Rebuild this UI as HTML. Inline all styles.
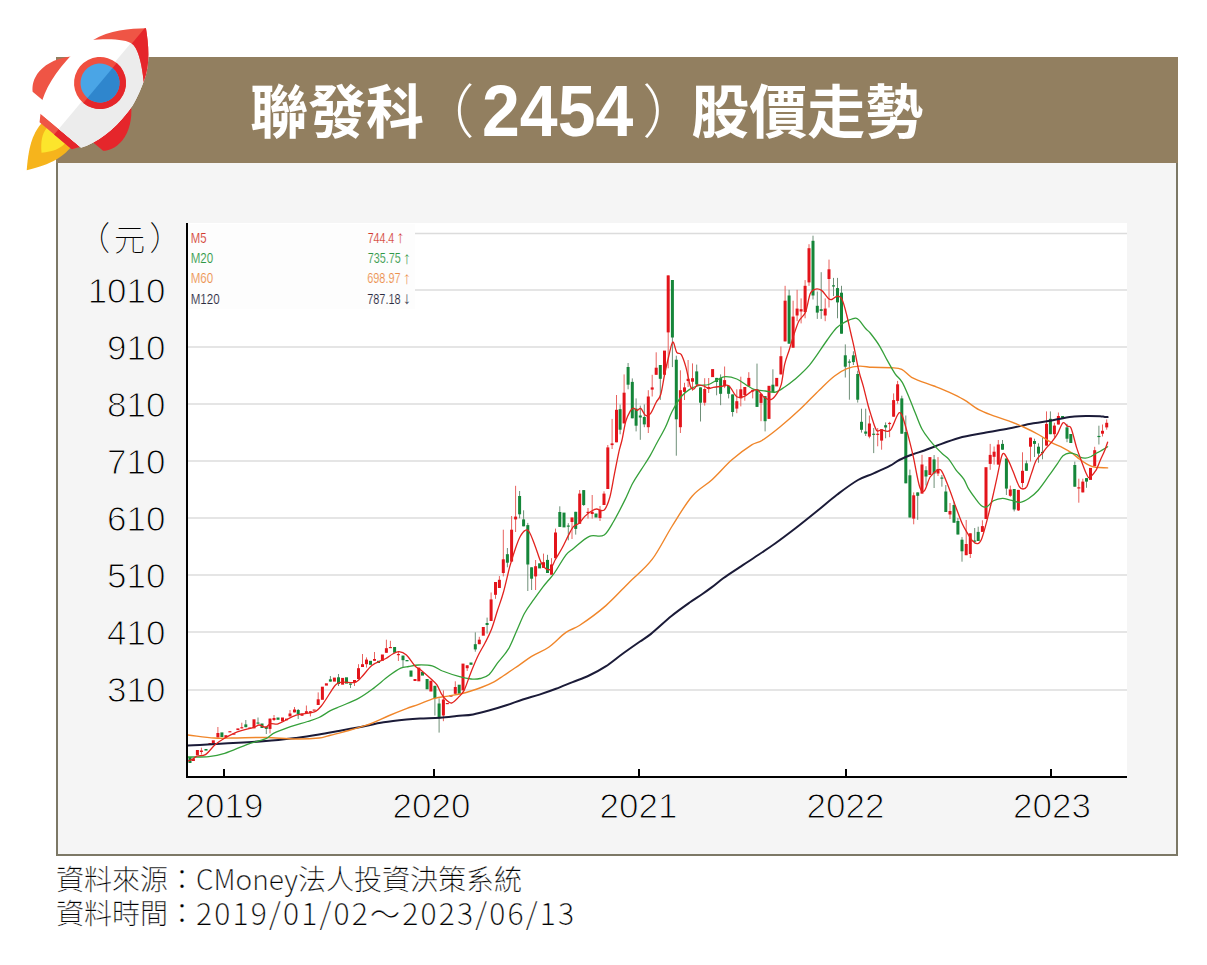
<!DOCTYPE html>
<html lang="zh-Hant">
<head>
<meta charset="utf-8">
<title>聯發科（2454）股價走勢</title>
<style>
html,body{margin:0;padding:0;background:#fff;}
body{width:1207px;height:965px;position:relative;overflow:hidden;}
#banner{position:absolute;left:56px;top:57px;width:1122px;height:106px;background:#927f60;}
#title{position:absolute;left:250px;top:67.5px;height:80px;line-height:80px;color:#fff;font-family:"Noto Sans CJK TC",sans-serif;font-weight:700;font-size:58px;white-space:nowrap;}
#title .num{font-family:"Liberation Sans",sans-serif;font-weight:700;font-size:68px;display:inline-block;transform:scaleY(1.07);transform-origin:50% 75%;position:relative;top:3.5px;}
#title .p1,#title .p2{font-weight:300;position:relative;}
#title .p1{left:-7.5px;}
#title .p2{left:9px;}
#panel{position:absolute;left:56px;top:163px;width:1118px;height:691px;background:#f5f5f5;border:2px solid #7c7866;border-top:none;}
#chart{position:absolute;left:0;top:0;}
#rocket{position:absolute;left:0;top:0;}
.foot{position:absolute;left:56px;font-family:"Noto Sans CJK TC",sans-serif;font-weight:300;-webkit-text-stroke:0.25px #fff;font-size:28px;color:#000;white-space:nowrap;}
</style>
</head>
<body>
<div id="banner"></div>
<div id="panel"></div>
<div id="title">聯發科<span class="p1">（</span><span class="num">2454</span><span class="p2">）</span>股價走勢</div>
<svg id="chart" width="1207" height="965" viewBox="0 0 1207 965">
  <rect x="187" y="223" width="940" height="553" fill="#fff"/>
  <g stroke="#dcdcdc" stroke-width="1.5">
    <line x1="188" y1="233.5" x2="1127" y2="233.5"/>
    <line x1="188" y1="290" x2="1127" y2="290"/>
    <line x1="188" y1="347" x2="1127" y2="347"/>
    <line x1="188" y1="404" x2="1127" y2="404"/>
    <line x1="188" y1="461" x2="1127" y2="461"/>
    <line x1="188" y1="518" x2="1127" y2="518"/>
    <line x1="188" y1="575" x2="1127" y2="575"/>
    <line x1="188" y1="632" x2="1127" y2="632"/>
    <line x1="188" y1="690" x2="1127" y2="690"/>
  </g>
  <rect x="188" y="224" width="227" height="85" fill="#fdfdfd"/>
  <g id="data">
<g stroke-width="1"><line x1="201.4" y1="747.7" x2="201.4" y2="754.6" stroke="#e8635f"/><line x1="217.9" y1="727.0" x2="217.9" y2="737.5" stroke="#e8635f"/><line x1="241.8" y1="722.7" x2="241.8" y2="728.4" stroke="#e8635f"/><line x1="245.8" y1="720.0" x2="245.8" y2="727.2" stroke="#6f8f78"/><line x1="258.0" y1="717.5" x2="258.0" y2="723.5" stroke="#6f8f78"/><line x1="266.3" y1="726.6" x2="266.3" y2="734.0" stroke="#6f8f78"/><line x1="270.0" y1="718.6" x2="270.0" y2="733.4" stroke="#e8635f"/><line x1="274.0" y1="715.0" x2="274.0" y2="721.0" stroke="#e8635f"/><line x1="290.0" y1="710.0" x2="290.0" y2="716.4" stroke="#e8635f"/><line x1="294.5" y1="707.0" x2="294.5" y2="712.4" stroke="#e8635f"/><line x1="298.2" y1="709.0" x2="298.2" y2="719.0" stroke="#6f8f78"/><line x1="306.4" y1="705.5" x2="306.4" y2="713.0" stroke="#e8635f"/><line x1="310.4" y1="711.2" x2="310.4" y2="716.4" stroke="#e8635f"/><line x1="318.2" y1="692.4" x2="318.2" y2="705.0" stroke="#e8635f"/><line x1="330.4" y1="676.0" x2="330.4" y2="681.6" stroke="#6f8f78"/><line x1="338.5" y1="674.0" x2="338.5" y2="686.0" stroke="#6f8f78"/><line x1="350.5" y1="683.5" x2="350.5" y2="688.0" stroke="#6f8f78"/><line x1="354.5" y1="680.0" x2="354.5" y2="686.0" stroke="#e8635f"/><line x1="358.5" y1="664.2" x2="358.5" y2="679.0" stroke="#e8635f"/><line x1="362.5" y1="654.0" x2="362.5" y2="667.0" stroke="#e8635f"/><line x1="366.5" y1="657.4" x2="366.5" y2="667.6" stroke="#e8635f"/><line x1="374.5" y1="652.0" x2="374.5" y2="660.8" stroke="#e8635f"/><line x1="386.4" y1="639.7" x2="386.4" y2="652.8" stroke="#e8635f"/><line x1="390.4" y1="640.8" x2="390.4" y2="648.0" stroke="#e8635f"/><line x1="398.4" y1="651.0" x2="398.4" y2="661.0" stroke="#e8635f"/><line x1="403.0" y1="655.6" x2="403.0" y2="667.0" stroke="#6f8f78"/><line x1="434.9" y1="685.8" x2="434.9" y2="715.5" stroke="#6f8f78"/><line x1="439.1" y1="698.4" x2="439.1" y2="732.6" stroke="#6f8f78"/><line x1="443.4" y1="690.4" x2="443.4" y2="721.2" stroke="#e8635f"/><line x1="455.3" y1="681.3" x2="455.3" y2="693.8" stroke="#e8635f"/><line x1="467.2" y1="665.3" x2="467.2" y2="671.0" stroke="#e8635f"/><line x1="475.3" y1="632.3" x2="475.3" y2="651.7" stroke="#6f8f78"/><line x1="479.3" y1="636.8" x2="479.3" y2="644.2" stroke="#e8635f"/><line x1="487.1" y1="617.6" x2="487.1" y2="633.6" stroke="#6f8f78"/><line x1="491.1" y1="592.5" x2="491.1" y2="621.0" stroke="#e8635f"/><line x1="495.5" y1="582.0" x2="495.5" y2="598.8" stroke="#e8635f"/><line x1="499.4" y1="576.0" x2="499.4" y2="588.0" stroke="#e8635f"/><line x1="503.3" y1="529.7" x2="503.3" y2="576.4" stroke="#e8635f"/><line x1="507.4" y1="548.0" x2="507.4" y2="567.3" stroke="#6f8f78"/><line x1="511.6" y1="516.0" x2="511.6" y2="561.6" stroke="#e8635f"/><line x1="515.6" y1="485.8" x2="515.6" y2="532.0" stroke="#e8635f"/><line x1="519.6" y1="491.0" x2="519.6" y2="518.3" stroke="#6f8f78"/><line x1="523.6" y1="510.3" x2="523.6" y2="526.3" stroke="#6f8f78"/><line x1="527.8" y1="522.9" x2="527.8" y2="591.0" stroke="#6f8f78"/><line x1="531.6" y1="567.3" x2="531.6" y2="590.0" stroke="#6f8f78"/><line x1="535.6" y1="560.0" x2="535.6" y2="590.0" stroke="#e8635f"/><line x1="543.5" y1="553.6" x2="543.5" y2="567.9" stroke="#e8635f"/><line x1="547.5" y1="554.8" x2="547.5" y2="573.0" stroke="#6f8f78"/><line x1="551.5" y1="558.2" x2="551.5" y2="574.7" stroke="#e8635f"/><line x1="555.5" y1="528.6" x2="555.5" y2="558.2" stroke="#e8635f"/><line x1="559.8" y1="506.3" x2="559.8" y2="526.9" stroke="#6f8f78"/><line x1="568.3" y1="523.2" x2="568.3" y2="540.3" stroke="#6f8f78"/><line x1="572.0" y1="517.5" x2="572.0" y2="539.0" stroke="#e8635f"/><line x1="575.7" y1="511.8" x2="575.7" y2="534.6" stroke="#6f8f78"/><line x1="579.7" y1="490.0" x2="579.7" y2="523.8" stroke="#e8635f"/><line x1="583.7" y1="490.1" x2="583.7" y2="506.0" stroke="#6f8f78"/><line x1="588.0" y1="508.0" x2="588.0" y2="518.6" stroke="#e8635f"/><line x1="592.2" y1="495.0" x2="592.2" y2="518.6" stroke="#e8635f"/><line x1="600.0" y1="506.0" x2="600.0" y2="521.0" stroke="#e8635f"/><line x1="604.0" y1="491.3" x2="604.0" y2="505.0" stroke="#e8635f"/><line x1="607.8" y1="445.0" x2="607.8" y2="489.0" stroke="#e8635f"/><line x1="612.1" y1="418.9" x2="612.1" y2="449.0" stroke="#e8635f"/><line x1="616.5" y1="395.0" x2="616.5" y2="442.3" stroke="#e8635f"/><line x1="620.1" y1="404.6" x2="620.1" y2="434.3" stroke="#6f8f78"/><line x1="624.1" y1="374.4" x2="624.1" y2="423.4" stroke="#e8635f"/><line x1="628.1" y1="363.0" x2="628.1" y2="389.3" stroke="#6f8f78"/><line x1="632.3" y1="378.4" x2="632.3" y2="418.3" stroke="#6f8f78"/><line x1="636.1" y1="398.4" x2="636.1" y2="431.4" stroke="#6f8f78"/><line x1="640.3" y1="405.6" x2="640.3" y2="439.8" stroke="#6f8f78"/><line x1="644.3" y1="404.4" x2="644.3" y2="427.2" stroke="#6f8f78"/><line x1="648.3" y1="390.2" x2="648.3" y2="433.0" stroke="#e8635f"/><line x1="652.2" y1="374.8" x2="652.2" y2="396.5" stroke="#e8635f"/><line x1="656.2" y1="352.3" x2="656.2" y2="374.8" stroke="#e8635f"/><line x1="660.3" y1="365.0" x2="660.3" y2="399.9" stroke="#6f8f78"/><line x1="668.2" y1="275.4" x2="668.2" y2="368.3" stroke="#e8635f"/><line x1="672.4" y1="280.0" x2="672.4" y2="367.1" stroke="#6f8f78"/><line x1="676.3" y1="355.7" x2="676.3" y2="455.7" stroke="#6f8f78"/><line x1="680.4" y1="370.3" x2="680.4" y2="433.0" stroke="#e8635f"/><line x1="684.5" y1="382.8" x2="684.5" y2="400.0" stroke="#e8635f"/><line x1="688.1" y1="360.0" x2="688.1" y2="387.0" stroke="#e8635f"/><line x1="692.5" y1="363.4" x2="692.5" y2="390.8" stroke="#e8635f"/><line x1="696.7" y1="364.6" x2="696.7" y2="385.0" stroke="#6f8f78"/><line x1="700.5" y1="387.4" x2="700.5" y2="421.5" stroke="#6f8f78"/><line x1="704.7" y1="378.2" x2="704.7" y2="405.6" stroke="#e8635f"/><line x1="708.7" y1="378.0" x2="708.7" y2="393.0" stroke="#e8635f"/><line x1="716.6" y1="377.9" x2="716.6" y2="395.3" stroke="#6f8f78"/><line x1="720.6" y1="374.4" x2="720.6" y2="405.2" stroke="#6f8f78"/><line x1="724.6" y1="366.5" x2="724.6" y2="388.1" stroke="#e8635f"/><line x1="728.6" y1="385.8" x2="728.6" y2="398.4" stroke="#6f8f78"/><line x1="732.6" y1="394.4" x2="732.6" y2="416.6" stroke="#6f8f78"/><line x1="736.8" y1="389.3" x2="736.8" y2="413.2" stroke="#e8635f"/><line x1="740.8" y1="376.7" x2="740.8" y2="406.4" stroke="#e8635f"/><line x1="744.8" y1="387.0" x2="744.8" y2="400.7" stroke="#e8635f"/><line x1="748.8" y1="372.2" x2="748.8" y2="386.4" stroke="#e8635f"/><line x1="752.7" y1="389.8" x2="752.7" y2="398.4" stroke="#e8635f"/><line x1="757.0" y1="363.6" x2="757.0" y2="406.9" stroke="#6f8f78"/><line x1="761.0" y1="393.8" x2="761.0" y2="421.2" stroke="#e8635f"/><line x1="765.1" y1="396.1" x2="765.1" y2="431.4" stroke="#6f8f78"/><line x1="772.9" y1="369.3" x2="772.9" y2="392.1" stroke="#6f8f78"/><line x1="780.9" y1="346.5" x2="780.9" y2="374.4" stroke="#e8635f"/><line x1="785.1" y1="285.8" x2="785.1" y2="341.4" stroke="#e8635f"/><line x1="789.1" y1="289.8" x2="789.1" y2="343.7" stroke="#6f8f78"/><line x1="793.1" y1="300.7" x2="793.1" y2="347.7" stroke="#e8635f"/><line x1="797.1" y1="289.8" x2="797.1" y2="321.2" stroke="#e8635f"/><line x1="801.1" y1="298.4" x2="801.1" y2="323.4" stroke="#e8635f"/><line x1="805.1" y1="280.1" x2="805.1" y2="318.3" stroke="#e8635f"/><line x1="809.0" y1="244.2" x2="809.0" y2="285.8" stroke="#e8635f"/><line x1="813.0" y1="235.7" x2="813.0" y2="299.5" stroke="#6f8f78"/><line x1="817.3" y1="291.5" x2="817.3" y2="318.9" stroke="#6f8f78"/><line x1="821.2" y1="272.2" x2="821.2" y2="318.9" stroke="#6f8f78"/><line x1="825.2" y1="298.4" x2="825.2" y2="321.2" stroke="#e8635f"/><line x1="829.0" y1="259.6" x2="829.0" y2="307.5" stroke="#e8635f"/><line x1="833.5" y1="277.9" x2="833.5" y2="296.1" stroke="#6f8f78"/><line x1="837.5" y1="277.9" x2="837.5" y2="318.3" stroke="#6f8f78"/><line x1="841.5" y1="285.8" x2="841.5" y2="333.7" stroke="#6f8f78"/><line x1="845.3" y1="344.4" x2="845.3" y2="377.5" stroke="#6f8f78"/><line x1="849.4" y1="359.3" x2="849.4" y2="399.7" stroke="#6f8f78"/><line x1="853.4" y1="351.3" x2="853.4" y2="365.0" stroke="#6f8f78"/><line x1="857.7" y1="370.7" x2="857.7" y2="402.6" stroke="#6f8f78"/><line x1="861.5" y1="408.7" x2="861.5" y2="432.6" stroke="#6f8f78"/><line x1="865.7" y1="408.7" x2="865.7" y2="436.0" stroke="#6f8f78"/><line x1="869.4" y1="415.5" x2="869.4" y2="438.3" stroke="#e8635f"/><line x1="873.7" y1="428.0" x2="873.7" y2="453.1" stroke="#6f8f78"/><line x1="877.7" y1="428.0" x2="877.7" y2="446.3" stroke="#e8635f"/><line x1="881.6" y1="429.2" x2="881.6" y2="449.7" stroke="#e8635f"/><line x1="885.6" y1="422.4" x2="885.6" y2="438.3" stroke="#6f8f78"/><line x1="889.6" y1="421.8" x2="889.6" y2="437.2" stroke="#e8635f"/><line x1="893.6" y1="393.4" x2="893.6" y2="416.7" stroke="#e8635f"/><line x1="897.6" y1="380.9" x2="897.6" y2="403.7" stroke="#e8635f"/><line x1="901.8" y1="395.7" x2="901.8" y2="433.7" stroke="#6f8f78"/><line x1="905.8" y1="415.5" x2="905.8" y2="483.3" stroke="#6f8f78"/><line x1="909.9" y1="469.6" x2="909.9" y2="517.5" stroke="#6f8f78"/><line x1="913.7" y1="492.4" x2="913.7" y2="524.3" stroke="#e8635f"/><line x1="917.7" y1="492.4" x2="917.7" y2="519.8" stroke="#6f8f78"/><line x1="922.0" y1="454.8" x2="922.0" y2="493.6" stroke="#e8635f"/><line x1="926.0" y1="466.2" x2="926.0" y2="485.6" stroke="#6f8f78"/><line x1="934.1" y1="455.0" x2="934.1" y2="488.0" stroke="#6f8f78"/><line x1="938.0" y1="457.1" x2="938.0" y2="476.0" stroke="#e8635f"/><line x1="941.9" y1="475.0" x2="941.9" y2="486.7" stroke="#6f8f78"/><line x1="945.8" y1="485.0" x2="945.8" y2="512.0" stroke="#6f8f78"/><line x1="950.0" y1="503.0" x2="950.0" y2="519.0" stroke="#e8635f"/><line x1="954.0" y1="501.5" x2="954.0" y2="522.7" stroke="#6f8f78"/><line x1="957.9" y1="518.0" x2="957.9" y2="534.5" stroke="#6f8f78"/><line x1="962.0" y1="537.1" x2="962.0" y2="561.7" stroke="#6f8f78"/><line x1="966.2" y1="520.0" x2="966.2" y2="555.2" stroke="#e8635f"/><line x1="970.3" y1="533.3" x2="970.3" y2="558.0" stroke="#e8635f"/><line x1="974.7" y1="528.0" x2="974.7" y2="543.5" stroke="#6f8f78"/><line x1="978.2" y1="526.7" x2="978.2" y2="541.0" stroke="#6f8f78"/><line x1="982.4" y1="520.3" x2="982.4" y2="531.9" stroke="#e8635f"/><line x1="990.2" y1="443.9" x2="990.2" y2="469.8" stroke="#e8635f"/><line x1="994.1" y1="446.5" x2="994.1" y2="464.6" stroke="#e8635f"/><line x1="998.3" y1="440.0" x2="998.3" y2="464.6" stroke="#e8635f"/><line x1="1002.5" y1="440.0" x2="1002.5" y2="449.7" stroke="#6f8f78"/><line x1="1006.4" y1="458.5" x2="1006.4" y2="495.0" stroke="#6f8f78"/><line x1="1010.3" y1="485.6" x2="1010.3" y2="496.9" stroke="#e8635f"/><line x1="1014.2" y1="489.0" x2="1014.2" y2="511.4" stroke="#6f8f78"/><line x1="1018.4" y1="489.9" x2="1018.4" y2="511.0" stroke="#e8635f"/><line x1="1022.5" y1="452.3" x2="1022.5" y2="487.5" stroke="#e8635f"/><line x1="1026.4" y1="460.5" x2="1026.4" y2="470.8" stroke="#6f8f78"/><line x1="1030.5" y1="437.6" x2="1030.5" y2="461.5" stroke="#e8635f"/><line x1="1034.5" y1="438.7" x2="1034.5" y2="457.0" stroke="#6f8f78"/><line x1="1038.5" y1="443.3" x2="1038.5" y2="462.7" stroke="#6f8f78"/><line x1="1042.5" y1="437.6" x2="1042.5" y2="459.3" stroke="#6f8f78"/><line x1="1046.5" y1="411.4" x2="1046.5" y2="445.6" stroke="#e8635f"/><line x1="1050.4" y1="411.4" x2="1050.4" y2="434.2" stroke="#6f8f78"/><line x1="1054.4" y1="422.8" x2="1054.4" y2="437.6" stroke="#e8635f"/><line x1="1058.4" y1="412.5" x2="1058.4" y2="424.5" stroke="#e8635f"/><line x1="1067.0" y1="423.9" x2="1067.0" y2="442.2" stroke="#6f8f78"/><line x1="1074.8" y1="461.6" x2="1074.8" y2="486.7" stroke="#6f8f78"/><line x1="1078.8" y1="478.7" x2="1078.8" y2="502.7" stroke="#e8635f"/><line x1="1082.8" y1="478.7" x2="1082.8" y2="492.4" stroke="#e8635f"/><line x1="1086.5" y1="478.1" x2="1086.5" y2="487.8" stroke="#6f8f78"/><line x1="1094.7" y1="446.8" x2="1094.7" y2="466.2" stroke="#e8635f"/><line x1="1098.9" y1="425.7" x2="1098.9" y2="444.5" stroke="#6f8f78"/><line x1="1102.5" y1="424.5" x2="1102.5" y2="436.5" stroke="#e8635f"/><line x1="1106.7" y1="419.4" x2="1106.7" y2="429.7" stroke="#e8635f"/></g>
<g><rect x="188.5" y="757.0" width="3" height="6.0" fill="#158639"/><rect x="191.9" y="758.6" width="3" height="2.4" fill="#e3141b"/><rect x="195.9" y="750.0" width="3" height="5.2" fill="#e3141b"/><rect x="199.9" y="750.5" width="3" height="1.5" fill="#e3141b"/><rect x="204.5" y="749.0" width="3" height="1.6" fill="#158639"/><rect x="208.5" y="743.0" width="3" height="2.0" fill="#e3141b"/><rect x="211.8" y="740.3" width="3" height="3.5" fill="#e3141b"/><rect x="216.4" y="733.0" width="3" height="4.5" fill="#e3141b"/><rect x="220.4" y="732.4" width="3" height="4.6" fill="#158639"/><rect x="224.4" y="735.2" width="3" height="2.3" fill="#e3141b"/><rect x="228.4" y="731.2" width="3" height="1.2" fill="#e3141b"/><rect x="232.4" y="733.5" width="3" height="1.2" fill="#e3141b"/><rect x="236.4" y="728.4" width="3" height="1.7" fill="#e3141b"/><rect x="240.3" y="727.2" width="3" height="1.2" fill="#e3141b"/><rect x="244.3" y="724.4" width="3" height="2.8" fill="#158639"/><rect x="248.3" y="727.5" width="3" height="1.2" fill="#e3141b"/><rect x="252.5" y="719.3" width="3" height="9.1" fill="#e3141b"/><rect x="256.5" y="722.5" width="3" height="1.2" fill="#158639"/><rect x="260.5" y="723.5" width="3" height="4.5" fill="#158639"/><rect x="264.8" y="726.6" width="3" height="2.3" fill="#158639"/><rect x="268.5" y="718.6" width="3" height="10.3" fill="#e3141b"/><rect x="272.5" y="718.0" width="3" height="2.0" fill="#e3141b"/><rect x="276.5" y="717.5" width="3" height="2.3" fill="#158639"/><rect x="281.0" y="717.5" width="3" height="4.0" fill="#e3141b"/><rect x="285.0" y="718.6" width="3" height="1.7" fill="#e3141b"/><rect x="288.5" y="713.5" width="3" height="2.9" fill="#e3141b"/><rect x="293.0" y="709.5" width="3" height="2.9" fill="#e3141b"/><rect x="296.7" y="710.0" width="3" height="4.0" fill="#158639"/><rect x="300.5" y="713.5" width="3" height="2.3" fill="#e3141b"/><rect x="304.9" y="711.2" width="3" height="1.8" fill="#e3141b"/><rect x="308.9" y="711.2" width="3" height="1.8" fill="#e3141b"/><rect x="312.7" y="709.5" width="3" height="1.2" fill="#e3141b"/><rect x="316.7" y="699.3" width="3" height="5.7" fill="#e3141b"/><rect x="320.9" y="686.7" width="3" height="13.1" fill="#e3141b"/><rect x="324.9" y="683.3" width="3" height="2.3" fill="#e3141b"/><rect x="328.9" y="679.3" width="3" height="2.3" fill="#158639"/><rect x="332.9" y="677.6" width="3" height="4.0" fill="#e3141b"/><rect x="337.0" y="677.3" width="3" height="6.7" fill="#158639"/><rect x="341.1" y="677.9" width="3" height="6.8" fill="#e3141b"/><rect x="345.0" y="677.3" width="3" height="6.3" fill="#158639"/><rect x="349.0" y="683.5" width="3" height="1.2" fill="#158639"/><rect x="353.0" y="680.0" width="3" height="2.0" fill="#e3141b"/><rect x="357.0" y="668.2" width="3" height="10.8" fill="#e3141b"/><rect x="361.0" y="664.2" width="3" height="2.8" fill="#e3141b"/><rect x="365.0" y="659.6" width="3" height="4.6" fill="#e3141b"/><rect x="369.0" y="660.8" width="3" height="4.0" fill="#158639"/><rect x="373.0" y="659.0" width="3" height="1.8" fill="#e3141b"/><rect x="377.0" y="660.8" width="3" height="2.2" fill="#158639"/><rect x="380.9" y="654.5" width="3" height="6.3" fill="#e3141b"/><rect x="384.9" y="648.2" width="3" height="4.6" fill="#e3141b"/><rect x="388.9" y="647.0" width="3" height="1.2" fill="#e3141b"/><rect x="393.1" y="647.0" width="3" height="5.8" fill="#158639"/><rect x="396.9" y="654.0" width="3" height="1.2" fill="#e3141b"/><rect x="401.5" y="655.6" width="3" height="4.6" fill="#158639"/><rect x="405.5" y="660.0" width="3" height="1.3" fill="#158639"/><rect x="409.5" y="670.5" width="3" height="6.2" fill="#158639"/><rect x="413.5" y="679.0" width="3" height="2.0" fill="#e3141b"/><rect x="417.3" y="667.6" width="3" height="13.7" fill="#e3141b"/><rect x="421.0" y="672.0" width="3" height="3.6" fill="#158639"/><rect x="425.6" y="679.0" width="3" height="10.3" fill="#158639"/><rect x="429.4" y="680.7" width="3" height="10.8" fill="#e3141b"/><rect x="433.4" y="685.8" width="3" height="12.6" fill="#158639"/><rect x="437.6" y="703.5" width="3" height="14.8" fill="#158639"/><rect x="441.9" y="699.5" width="3" height="16.0" fill="#e3141b"/><rect x="445.8" y="703.0" width="3" height="1.2" fill="#e3141b"/><rect x="449.5" y="695.0" width="3" height="1.7" fill="#e3141b"/><rect x="453.8" y="687.0" width="3" height="6.8" fill="#e3141b"/><rect x="457.7" y="684.7" width="3" height="9.1" fill="#158639"/><rect x="461.5" y="663.6" width="3" height="26.8" fill="#e3141b"/><rect x="465.7" y="665.3" width="3" height="2.9" fill="#e3141b"/><rect x="469.5" y="662.5" width="3" height="2.3" fill="#158639"/><rect x="473.8" y="644.2" width="3" height="5.2" fill="#158639"/><rect x="477.8" y="639.7" width="3" height="4.5" fill="#e3141b"/><rect x="481.8" y="627.0" width="3" height="8.7" fill="#e3141b"/><rect x="485.6" y="623.0" width="3" height="2.0" fill="#158639"/><rect x="489.6" y="599.4" width="3" height="21.6" fill="#e3141b"/><rect x="494.0" y="582.0" width="3" height="12.8" fill="#e3141b"/><rect x="497.9" y="579.8" width="3" height="8.2" fill="#e3141b"/><rect x="501.8" y="559.3" width="3" height="13.7" fill="#e3141b"/><rect x="505.9" y="554.2" width="3" height="8.5" fill="#158639"/><rect x="510.1" y="529.7" width="3" height="31.9" fill="#e3141b"/><rect x="514.1" y="516.6" width="3" height="2.8" fill="#e3141b"/><rect x="518.1" y="496.0" width="3" height="18.3" fill="#158639"/><rect x="522.1" y="519.4" width="3" height="6.9" fill="#158639"/><rect x="526.3" y="525.1" width="3" height="39.4" fill="#158639"/><rect x="530.1" y="567.3" width="3" height="11.4" fill="#158639"/><rect x="534.1" y="566.2" width="3" height="10.2" fill="#e3141b"/><rect x="538.1" y="563.3" width="3" height="5.1" fill="#158639"/><rect x="542.0" y="562.2" width="3" height="5.7" fill="#e3141b"/><rect x="546.0" y="559.9" width="3" height="13.1" fill="#158639"/><rect x="550.0" y="564.5" width="3" height="10.2" fill="#e3141b"/><rect x="554.0" y="532.5" width="3" height="25.7" fill="#e3141b"/><rect x="558.3" y="512.0" width="3" height="14.9" fill="#158639"/><rect x="562.5" y="512.6" width="3" height="14.8" fill="#158639"/><rect x="566.8" y="525.5" width="3" height="1.2" fill="#158639"/><rect x="570.5" y="517.5" width="3" height="4.5" fill="#e3141b"/><rect x="574.2" y="511.8" width="3" height="17.1" fill="#158639"/><rect x="578.2" y="493.6" width="3" height="30.2" fill="#e3141b"/><rect x="582.2" y="490.1" width="3" height="14.9" fill="#158639"/><rect x="586.5" y="511.8" width="3" height="1.2" fill="#e3141b"/><rect x="590.7" y="511.8" width="3" height="2.2" fill="#e3141b"/><rect x="594.5" y="513.5" width="3" height="4.0" fill="#158639"/><rect x="598.5" y="510.0" width="3" height="8.0" fill="#e3141b"/><rect x="602.5" y="493.6" width="3" height="11.4" fill="#e3141b"/><rect x="606.3" y="447.4" width="3" height="41.6" fill="#e3141b"/><rect x="610.6" y="443.4" width="3" height="1.7" fill="#e3141b"/><rect x="615.0" y="409.8" width="3" height="32.5" fill="#e3141b"/><rect x="618.6" y="409.2" width="3" height="20.5" fill="#158639"/><rect x="622.6" y="392.7" width="3" height="30.7" fill="#e3141b"/><rect x="626.6" y="367.0" width="3" height="17.7" fill="#158639"/><rect x="630.8" y="381.9" width="3" height="36.4" fill="#158639"/><rect x="634.6" y="408.6" width="3" height="17.1" fill="#158639"/><rect x="638.8" y="415.5" width="3" height="2.0" fill="#158639"/><rect x="642.8" y="417.0" width="3" height="7.4" fill="#158639"/><rect x="646.8" y="396.5" width="3" height="30.7" fill="#e3141b"/><rect x="650.7" y="387.4" width="3" height="2.2" fill="#e3141b"/><rect x="654.7" y="367.7" width="3" height="7.1" fill="#e3141b"/><rect x="658.8" y="365.0" width="3" height="13.8" fill="#158639"/><rect x="663.0" y="350.6" width="3" height="24.2" fill="#e3141b"/><rect x="666.7" y="275.4" width="3" height="57.0" fill="#e3141b"/><rect x="670.9" y="280.0" width="3" height="57.5" fill="#158639"/><rect x="674.8" y="359.7" width="3" height="59.6" fill="#158639"/><rect x="678.9" y="390.2" width="3" height="37.0" fill="#e3141b"/><rect x="683.0" y="387.4" width="3" height="4.5" fill="#e3141b"/><rect x="686.6" y="378.8" width="3" height="2.2" fill="#e3141b"/><rect x="691.0" y="378.2" width="3" height="3.5" fill="#e3141b"/><rect x="695.2" y="371.4" width="3" height="13.1" fill="#158639"/><rect x="699.0" y="387.4" width="3" height="15.3" fill="#158639"/><rect x="703.2" y="389.0" width="3" height="13.7" fill="#e3141b"/><rect x="707.2" y="387.0" width="3" height="2.0" fill="#e3141b"/><rect x="711.1" y="369.1" width="3" height="8.0" fill="#e3141b"/><rect x="715.1" y="377.9" width="3" height="4.1" fill="#158639"/><rect x="719.1" y="377.9" width="3" height="15.9" fill="#158639"/><rect x="723.1" y="380.1" width="3" height="6.3" fill="#e3141b"/><rect x="727.1" y="385.8" width="3" height="8.0" fill="#158639"/><rect x="731.1" y="394.4" width="3" height="17.6" fill="#158639"/><rect x="735.3" y="401.2" width="3" height="7.4" fill="#e3141b"/><rect x="739.3" y="389.3" width="3" height="9.1" fill="#e3141b"/><rect x="743.3" y="387.0" width="3" height="8.0" fill="#e3141b"/><rect x="747.3" y="377.9" width="3" height="8.5" fill="#e3141b"/><rect x="751.2" y="389.8" width="3" height="1.7" fill="#e3141b"/><rect x="755.5" y="389.3" width="3" height="17.6" fill="#158639"/><rect x="759.5" y="393.8" width="3" height="9.1" fill="#e3141b"/><rect x="763.6" y="396.1" width="3" height="25.1" fill="#158639"/><rect x="767.5" y="385.8" width="3" height="33.1" fill="#e3141b"/><rect x="771.4" y="384.7" width="3" height="7.4" fill="#158639"/><rect x="775.2" y="377.9" width="3" height="8.5" fill="#e3141b"/><rect x="779.4" y="356.2" width="3" height="18.2" fill="#e3141b"/><rect x="783.6" y="300.7" width="3" height="40.7" fill="#e3141b"/><rect x="787.6" y="295.5" width="3" height="48.2" fill="#158639"/><rect x="791.6" y="316.6" width="3" height="31.1" fill="#e3141b"/><rect x="795.6" y="308.6" width="3" height="6.9" fill="#e3141b"/><rect x="799.6" y="309.2" width="3" height="2.3" fill="#e3141b"/><rect x="803.6" y="285.8" width="3" height="26.2" fill="#e3141b"/><rect x="807.5" y="248.2" width="3" height="34.2" fill="#e3141b"/><rect x="811.5" y="240.8" width="3" height="54.7" fill="#158639"/><rect x="815.8" y="305.8" width="3" height="6.8" fill="#158639"/><rect x="819.7" y="309.2" width="3" height="1.7" fill="#158639"/><rect x="823.7" y="308.6" width="3" height="6.9" fill="#e3141b"/><rect x="827.5" y="269.3" width="3" height="9.7" fill="#e3141b"/><rect x="832.0" y="285.3" width="3" height="1.2" fill="#158639"/><rect x="836.0" y="288.1" width="3" height="14.3" fill="#158639"/><rect x="840.0" y="292.7" width="3" height="41.0" fill="#158639"/><rect x="843.8" y="355.3" width="3" height="11.4" fill="#158639"/><rect x="847.9" y="361.5" width="3" height="1.2" fill="#158639"/><rect x="851.9" y="355.3" width="3" height="6.8" fill="#158639"/><rect x="856.2" y="374.0" width="3" height="25.7" fill="#158639"/><rect x="860.0" y="421.8" width="3" height="8.0" fill="#158639"/><rect x="864.2" y="431.5" width="3" height="2.2" fill="#158639"/><rect x="867.9" y="423.5" width="3" height="13.1" fill="#e3141b"/><rect x="872.2" y="433.7" width="3" height="1.2" fill="#158639"/><rect x="876.2" y="433.7" width="3" height="1.2" fill="#e3141b"/><rect x="880.1" y="429.2" width="3" height="11.4" fill="#e3141b"/><rect x="884.1" y="425.2" width="3" height="2.3" fill="#158639"/><rect x="888.1" y="422.9" width="3" height="1.2" fill="#e3141b"/><rect x="892.1" y="400.1" width="3" height="16.6" fill="#e3141b"/><rect x="896.1" y="384.3" width="3" height="16.6" fill="#e3141b"/><rect x="900.3" y="398.4" width="3" height="35.3" fill="#158639"/><rect x="904.3" y="432.0" width="3" height="51.3" fill="#158639"/><rect x="908.4" y="475.3" width="3" height="42.2" fill="#158639"/><rect x="912.2" y="495.3" width="3" height="23.3" fill="#e3141b"/><rect x="916.2" y="492.4" width="3" height="3.4" fill="#158639"/><rect x="920.5" y="464.5" width="3" height="29.1" fill="#e3141b"/><rect x="924.5" y="470.2" width="3" height="6.3" fill="#158639"/><rect x="928.4" y="457.1" width="3" height="17.9" fill="#e3141b"/><rect x="932.6" y="459.4" width="3" height="14.1" fill="#158639"/><rect x="936.5" y="469.0" width="3" height="4.5" fill="#e3141b"/><rect x="940.4" y="477.5" width="3" height="1.2" fill="#158639"/><rect x="944.3" y="491.5" width="3" height="20.5" fill="#158639"/><rect x="948.5" y="511.0" width="3" height="3.5" fill="#e3141b"/><rect x="952.5" y="505.0" width="3" height="17.7" fill="#158639"/><rect x="956.4" y="521.0" width="3" height="13.5" fill="#158639"/><rect x="960.5" y="539.7" width="3" height="11.6" fill="#158639"/><rect x="964.7" y="544.0" width="3" height="11.2" fill="#e3141b"/><rect x="968.8" y="533.3" width="3" height="20.7" fill="#e3141b"/><rect x="973.2" y="540.5" width="3" height="1.2" fill="#158639"/><rect x="976.7" y="531.9" width="3" height="9.1" fill="#158639"/><rect x="980.9" y="526.1" width="3" height="5.8" fill="#e3141b"/><rect x="984.5" y="467.2" width="3" height="51.8" fill="#e3141b"/><rect x="988.7" y="454.9" width="3" height="9.0" fill="#e3141b"/><rect x="992.6" y="451.7" width="3" height="5.1" fill="#e3141b"/><rect x="996.8" y="444.5" width="3" height="20.1" fill="#e3141b"/><rect x="1001.0" y="443.9" width="3" height="5.8" fill="#158639"/><rect x="1004.9" y="458.5" width="3" height="30.1" fill="#158639"/><rect x="1008.8" y="489.5" width="3" height="6.3" fill="#e3141b"/><rect x="1012.7" y="489.0" width="3" height="20.5" fill="#158639"/><rect x="1016.9" y="489.9" width="3" height="20.5" fill="#e3141b"/><rect x="1021.0" y="470.8" width="3" height="12.2" fill="#e3141b"/><rect x="1024.9" y="463.3" width="3" height="7.5" fill="#158639"/><rect x="1029.0" y="437.6" width="3" height="9.1" fill="#e3141b"/><rect x="1033.0" y="441.0" width="3" height="2.9" fill="#158639"/><rect x="1037.0" y="446.7" width="3" height="6.9" fill="#158639"/><rect x="1041.0" y="451.9" width="3" height="1.2" fill="#158639"/><rect x="1045.0" y="423.9" width="3" height="21.7" fill="#e3141b"/><rect x="1048.9" y="418.8" width="3" height="15.4" fill="#158639"/><rect x="1052.9" y="425.6" width="3" height="8.6" fill="#e3141b"/><rect x="1056.9" y="416.0" width="3" height="8.5" fill="#e3141b"/><rect x="1061.1" y="416.0" width="3" height="2.8" fill="#158639"/><rect x="1065.5" y="427.4" width="3" height="11.3" fill="#158639"/><rect x="1069.3" y="434.0" width="3" height="9.0" fill="#158639"/><rect x="1073.3" y="465.0" width="3" height="21.7" fill="#158639"/><rect x="1077.3" y="487.3" width="3" height="1.2" fill="#e3141b"/><rect x="1081.3" y="481.6" width="3" height="10.8" fill="#e3141b"/><rect x="1085.0" y="478.1" width="3" height="3.5" fill="#158639"/><rect x="1089.0" y="467.9" width="3" height="12.0" fill="#e3141b"/><rect x="1093.2" y="450.2" width="3" height="16.0" fill="#e3141b"/><rect x="1097.4" y="435.9" width="3" height="1.2" fill="#158639"/><rect x="1101.0" y="430.8" width="3" height="2.9" fill="#e3141b"/><rect x="1105.2" y="422.8" width="3" height="4.6" fill="#e3141b"/></g>
<path d="M188.0,745.5 C214.0,744.0 240.0,742.9 266.0,741.1 C276.1,740.4 286.1,739.2 296.2,738.0 C303.8,737.1 311.4,735.9 319.0,734.6 C326.0,733.4 333.0,732.0 340.0,730.7 C346.9,729.4 353.9,728.2 360.8,726.9 C368.4,725.4 376.0,723.5 383.6,722.3 C391.2,721.1 398.8,720.3 406.4,719.5 C410.9,719.0 415.5,718.7 420.0,718.5 C426.7,718.2 433.3,718.2 440.0,717.8 C445.5,717.4 451.1,716.7 456.6,716.1 C462.1,715.5 467.6,715.4 473.1,714.4 C478.6,713.4 484.2,711.8 489.7,710.3 C495.2,708.8 500.8,707.1 506.3,705.3 C511.8,703.5 517.3,701.3 522.8,699.5 C528.3,697.7 533.9,696.4 539.4,694.6 C544.9,692.8 550.5,690.9 556.0,688.8 C561.5,686.7 567.1,684.3 572.6,682.1 C578.1,679.9 583.6,678.1 589.1,675.5 C594.6,672.9 600.2,670.0 605.7,666.4 C611.2,662.8 616.8,658.0 622.3,654.0 C628.2,649.7 634.1,645.6 640.0,641.5 C643.6,639.0 647.1,637.0 650.7,634.1 C657.6,628.5 664.6,621.6 671.5,616.0 C677.7,611.0 683.8,606.7 690.0,602.3 C694.1,599.4 698.3,596.9 702.4,594.0 C705.5,591.9 708.5,589.7 711.6,587.4 C715.5,584.5 719.3,581.1 723.2,578.3 C728.7,574.3 734.3,570.8 739.8,567.1 C744.7,563.9 749.5,560.8 754.4,557.5 C761.3,552.9 768.2,548.4 775.1,543.5 C782.0,538.6 788.9,533.3 795.8,528.0 C802.7,522.7 809.6,517.1 816.5,511.5 C823.4,505.9 830.4,499.8 837.3,494.5 C844.2,489.3 851.1,484.0 858.0,480.0 C863.0,477.1 868.1,475.8 873.1,473.6 C878.8,471.1 884.5,468.7 890.2,465.7 C893.2,464.1 896.3,461.5 899.3,460.0 C903.9,457.7 908.4,456.0 913.0,454.3 C916.8,452.9 920.6,451.9 924.4,450.5 C928.3,449.1 932.1,447.4 936.0,446.0 C943.6,443.2 951.3,440.1 958.9,438.0 C967.2,435.7 975.4,434.6 983.7,433.0 C992.0,431.4 1000.3,430.1 1008.6,428.5 C1016.9,426.9 1025.1,424.8 1033.4,423.3 C1039.5,422.2 1045.5,421.5 1051.6,420.5 C1055.4,419.8 1059.2,418.9 1063.0,418.2 C1066.8,417.5 1070.6,416.8 1074.4,416.5 C1079.2,416.1 1084.0,416.1 1088.8,416.0 C1092.6,416.0 1096.4,416.0 1100.2,416.2 C1101.7,416.3 1103.3,416.7 1104.8,416.9 C1105.7,417.0 1106.7,417.0 1107.6,417.1" fill="none" stroke="#1b1b38" stroke-width="2.0" stroke-linejoin="round" stroke-linecap="round"/>
<path d="M188.0,735.0 C196.8,736.0 205.7,737.4 214.5,738.0 C220.2,738.4 225.9,738.1 231.6,738.0 C243.1,737.9 254.5,737.3 266.0,737.5 C276.1,737.7 286.1,738.9 296.2,739.0 C303.8,739.1 311.4,738.8 319.0,738.0 C322.8,737.6 326.6,736.1 330.4,735.2 C334.3,734.2 338.1,733.4 342.0,732.3 C350.2,730.0 358.3,728.1 366.5,725.2 C374.1,722.5 381.7,718.7 389.3,715.5 C395.0,713.1 400.7,710.8 406.4,708.6 C410.3,707.1 414.1,706.0 418.0,704.6 C423.5,702.6 429.0,699.9 434.5,698.4 C439.1,697.1 443.6,696.9 448.2,696.1 C453.9,695.0 459.6,694.2 465.3,692.7 C471.0,691.2 476.7,689.1 482.4,687.0 C486.3,685.5 490.1,684.0 494.0,681.9 C497.0,680.3 500.1,678.0 503.1,676.0 C508.8,672.2 514.5,668.2 520.2,664.3 C524.0,661.7 527.8,658.7 531.6,656.4 C537.3,653.0 543.0,651.2 548.7,647.2 C554.5,643.2 560.2,636.5 566.0,632.4 C570.5,629.2 574.9,628.5 579.4,625.5 C588.2,619.6 597.1,613.3 605.9,605.6 C613.6,598.9 621.4,590.1 629.1,582.4 C636.8,574.7 644.6,569.3 652.3,559.2 C658.9,550.5 665.6,536.5 672.2,526.0 C678.8,515.5 685.5,503.9 692.1,496.2 C698.7,488.5 705.4,485.8 712.0,479.7 C718.6,473.6 725.3,465.6 731.9,459.8 C738.5,454.0 745.1,449.1 751.7,444.9 C755.1,442.7 758.6,442.7 762.0,440.5 C768.0,436.7 773.9,431.9 779.9,427.0 C786.5,421.6 793.2,415.8 799.8,409.6 C806.4,403.4 813.1,396.1 819.7,389.7 C824.7,384.9 829.6,379.8 834.6,376.0 C838.7,372.8 842.9,370.2 847.0,368.6 C851.1,367.0 855.3,366.3 859.4,366.1 C863.6,365.9 867.7,367.1 871.9,367.3 C878.5,367.6 885.1,367.4 891.7,367.8 C895.0,368.0 898.4,367.7 901.7,369.3 C905.0,370.9 908.3,375.6 911.6,377.3 C919.1,381.2 926.5,383.0 934.0,386.0 C939.0,388.0 943.9,389.9 948.9,392.2 C953.9,394.5 958.8,396.8 963.8,399.7 C968.8,402.6 973.7,406.9 978.7,409.6 C983.7,412.3 988.7,413.9 993.7,415.8 C998.7,417.7 1003.6,418.9 1008.6,420.8 C1013.6,422.7 1018.5,424.7 1023.5,427.0 C1028.5,429.3 1033.4,431.7 1038.4,434.5 C1042.8,437.0 1047.2,440.3 1051.6,442.7 C1055.4,444.8 1059.2,445.9 1063.0,447.9 C1066.3,449.6 1069.5,451.4 1072.8,453.6 C1075.1,455.2 1077.4,457.6 1079.7,459.3 C1082.0,461.0 1084.2,462.5 1086.5,463.9 C1088.0,464.8 1089.6,465.6 1091.1,466.2 C1092.6,466.8 1094.2,467.1 1095.7,467.3 C1099.7,467.7 1103.6,467.7 1107.6,467.9" fill="none" stroke="#f0862a" stroke-width="1.4" stroke-linejoin="round" stroke-linecap="round"/>
<path d="M188.0,757.0 C194.9,756.9 201.9,757.3 208.8,756.6 C214.1,756.1 219.4,755.1 224.7,753.4 C232.3,751.0 239.9,747.0 247.5,744.3 C253.7,742.1 259.8,741.2 266.0,738.6 C268.5,737.6 270.9,734.6 273.4,733.4 C279.1,730.6 284.8,728.6 290.5,726.6 C296.2,724.6 301.9,723.3 307.6,721.5 C311.4,720.3 315.2,719.3 319.0,717.5 C322.8,715.7 326.6,712.7 330.4,710.7 C333.6,709.0 336.8,707.9 340.0,706.5 C346.2,703.8 352.3,701.7 358.5,698.4 C363.1,696.0 367.6,692.7 372.2,689.3 C377.9,685.1 383.6,679.8 389.3,675.6 C393.1,672.8 396.9,670.0 400.7,668.2 C403.4,666.9 406.0,667.0 408.7,666.5 C412.0,665.9 415.3,665.1 418.6,665.0 C423.1,664.9 427.7,664.8 432.2,665.9 C435.6,666.8 439.1,669.6 442.5,671.0 C448.2,673.2 453.9,675.1 459.6,676.7 C463.4,677.8 467.2,678.7 471.0,679.0 C474.0,679.3 477.1,679.3 480.1,678.5 C483.1,677.7 486.2,677.1 489.2,674.4 C491.9,672.0 494.7,666.8 497.4,663.2 C501.2,658.2 505.0,654.9 508.8,648.4 C511.8,643.2 514.9,634.7 517.9,627.9 C520.2,622.9 522.4,617.0 524.7,613.0 C527.8,607.5 530.8,603.8 533.9,599.4 C536.9,595.1 540.0,590.8 543.0,586.8 C544.9,584.3 546.8,582.3 548.7,580.0 C550.6,577.7 552.5,575.8 554.4,573.0 C558.3,567.4 562.1,559.9 566.0,554.8 C568.1,552.0 570.2,551.1 572.3,549.4 C578.0,544.9 583.7,538.9 589.4,536.3 C594.3,534.1 599.3,538.0 604.2,535.0 C607.2,533.2 610.3,527.1 613.3,522.0 C617.1,515.6 620.9,508.0 624.7,500.4 C627.4,495.1 630.0,488.3 632.7,483.3 C635.6,477.9 638.5,474.0 641.4,469.4 C644.1,465.2 646.7,461.5 649.4,456.9 C652.1,452.3 654.7,446.9 657.4,442.0 C660.1,437.1 662.7,432.7 665.4,427.2 C667.7,422.5 669.9,415.7 672.2,411.3 C675.2,405.4 678.3,400.3 681.3,396.5 C684.0,393.1 686.6,391.3 689.3,389.6 C692.3,387.7 695.4,386.4 698.4,385.6 C701.8,384.7 705.3,385.6 708.7,384.5 C711.8,383.5 714.9,380.8 718.0,379.4 C720.5,378.2 722.9,376.8 725.4,376.7 C729.2,376.6 733.0,377.5 736.8,379.0 C739.8,380.2 742.9,382.9 745.9,384.7 C748.6,386.3 751.2,388.4 753.9,389.3 C757.7,390.5 761.5,390.5 765.3,391.0 C768.7,391.4 772.1,392.8 775.5,392.1 C778.6,391.5 781.6,389.0 784.7,387.0 C787.8,385.0 790.9,382.8 794.0,380.1 C799.2,375.5 804.5,371.2 809.7,364.9 C815.5,357.9 821.4,348.1 827.2,340.0 C830.3,335.8 833.3,331.2 836.4,328.0 C839.1,325.3 841.7,323.7 844.4,322.3 C848.1,320.4 851.7,318.8 855.4,318.2 C856.5,318.0 857.7,318.8 858.8,319.9 C861.1,322.2 863.3,325.9 865.6,328.5 C867.1,330.3 868.7,331.1 870.2,333.0 C873.2,336.8 876.3,340.7 879.3,345.6 C882.0,349.9 884.6,355.6 887.3,360.4 C890.0,365.1 892.6,370.2 895.3,374.1 C897.6,377.4 899.8,378.3 902.1,382.1 C904.4,385.9 906.6,391.6 908.9,396.9 C911.0,401.9 913.2,407.8 915.3,413.0 C917.6,418.5 919.8,425.0 922.1,429.2 C924.8,434.2 927.4,437.1 930.1,440.6 C932.1,443.2 934.0,445.3 936.0,447.4 C938.3,449.8 940.6,452.1 942.9,454.2 C944.9,456.0 946.9,456.9 948.9,459.3 C951.2,462.1 953.6,466.7 955.9,469.8 C958.5,473.3 961.2,475.2 963.8,479.2 C965.5,481.7 967.1,486.4 968.8,489.2 C971.0,492.8 973.1,495.5 975.3,498.3 C977.5,501.1 979.6,504.4 981.8,506.0 C983.5,507.2 985.3,507.5 987.0,506.7 C989.1,505.7 991.3,502.0 993.4,500.8 C996.4,499.2 999.5,498.4 1002.5,498.3 C1005.2,498.2 1007.8,499.6 1010.5,500.2 C1013.8,500.9 1017.0,502.6 1020.3,502.3 C1023.1,502.0 1025.9,500.4 1028.7,498.5 C1031.8,496.4 1034.9,494.0 1038.0,490.5 C1041.8,486.2 1045.5,480.4 1049.3,475.2 C1052.0,471.5 1054.6,467.6 1057.3,463.8 C1059.2,461.1 1061.1,457.4 1063.0,455.8 C1065.3,453.8 1067.5,453.2 1069.8,453.0 C1072.1,452.8 1074.4,453.8 1076.7,454.7 C1077.7,455.1 1078.7,456.6 1079.7,457.0 C1081.6,457.8 1083.5,458.3 1085.4,458.2 C1087.3,458.1 1089.2,457.3 1091.1,456.5 C1092.6,455.8 1094.2,454.5 1095.7,453.6 C1097.2,452.7 1098.7,452.2 1100.2,451.3 C1102.7,449.9 1105.1,448.3 1107.6,446.8" fill="none" stroke="#35a03a" stroke-width="1.3" stroke-linejoin="round" stroke-linecap="round"/>
<path d="M188.0,761.0 C189.7,760.3 191.3,759.9 193.0,759.0 C194.3,758.3 195.7,756.5 197.0,756.0 C199.8,755.0 202.6,756.4 205.4,754.6 C208.8,752.5 212.2,747.1 215.6,744.3 C219.0,741.4 222.5,739.5 225.9,737.5 C229.7,735.3 233.5,733.2 237.3,731.8 C243.0,729.7 248.7,729.0 254.4,727.2 C255.9,726.7 257.5,725.0 259.0,725.0 C261.3,725.0 263.7,727.5 266.0,727.2 C267.3,727.1 268.7,724.2 270.0,723.8 C272.7,723.0 275.3,724.7 278.0,723.8 C284.1,721.8 290.1,717.2 296.2,715.2 C302.3,713.2 308.3,714.0 314.4,711.8 C316.7,711.0 319.0,708.8 321.3,706.0 C324.3,702.3 327.4,696.9 330.4,692.4 C332.3,689.7 334.1,686.0 336.0,684.4 C338.0,682.6 340.0,682.4 342.0,682.2 C346.3,681.7 350.7,683.4 355.0,682.4 C356.9,682.0 358.9,679.8 360.8,677.9 C364.6,674.1 368.4,668.2 372.2,665.3 C376.8,661.8 381.3,661.0 385.9,658.5 C388.2,657.3 390.4,655.2 392.7,654.0 C394.8,652.9 396.9,651.5 399.0,651.7 C401.5,651.9 403.9,652.8 406.4,655.0 C409.4,657.7 412.5,663.4 415.5,666.5 C417.3,668.3 419.0,668.5 420.8,669.9 C424.2,672.7 427.7,675.8 431.1,679.0 C433.0,680.8 434.9,682.0 436.8,684.7 C438.3,686.9 439.9,691.3 441.4,693.8 C442.9,696.2 444.4,698.1 445.9,699.5 C447.8,701.2 449.7,703.5 451.6,703.0 C454.3,702.3 456.9,698.8 459.6,696.1 C461.1,694.6 462.6,693.5 464.1,690.4 C466.4,685.6 468.7,677.9 471.0,672.2 C473.3,666.5 475.5,660.9 477.8,656.2 C480.2,651.2 482.6,647.7 485.0,643.0 C487.2,638.7 489.4,634.7 491.6,629.0 C493.5,624.0 495.5,616.8 497.4,610.8 C499.4,604.5 501.5,599.3 503.5,592.0 C505.6,584.4 507.8,574.0 509.9,566.2 C511.8,559.3 513.7,553.5 515.6,548.0 C517.1,543.6 518.7,539.3 520.2,536.5 C521.9,533.4 523.6,531.1 525.3,530.3 C526.6,529.6 528.0,529.9 529.3,532.0 C531.2,535.0 533.1,540.9 535.0,545.7 C537.3,551.5 539.5,560.2 541.8,563.9 C544.5,568.2 547.1,570.5 549.8,569.6 C551.7,569.0 553.6,562.6 555.5,559.3 C557.7,555.5 559.8,552.3 562.0,548.3 C564.3,544.1 566.5,538.9 568.8,534.6 C570.3,531.7 571.9,528.3 573.4,526.6 C575.3,524.5 577.2,524.9 579.1,523.2 C581.0,521.5 582.9,518.3 584.8,516.4 C586.7,514.5 588.6,513.0 590.5,511.8 C592.4,510.6 594.3,509.2 596.2,509.0 C598.9,508.6 601.5,512.3 604.2,510.0 C606.1,508.3 608.0,503.7 609.9,497.0 C611.4,491.7 612.9,481.7 614.4,474.2 C615.9,466.5 617.5,458.3 619.0,451.4 C620.0,446.9 621.0,444.4 622.0,440.0 C623.3,434.4 624.5,425.6 625.8,421.2 C627.3,415.9 628.9,413.6 630.4,410.9 C631.3,409.2 632.3,408.2 633.2,408.1 C634.5,408.0 635.9,410.2 637.2,410.3 C638.4,410.3 639.6,407.7 640.8,408.4 C642.3,409.3 643.9,414.5 645.4,415.3 C647.1,416.2 648.8,415.7 650.5,413.6 C652.4,411.3 654.3,405.8 656.2,402.2 C657.7,399.3 659.3,399.2 660.8,394.2 C662.0,390.2 663.3,380.9 664.5,375.0 C665.9,368.2 667.4,361.7 668.8,356.0 C670.1,350.7 671.5,342.6 672.8,342.0 C674.1,341.4 675.4,350.4 676.7,352.3 C678.2,354.6 679.8,352.1 681.3,354.6 C682.8,357.1 684.4,361.8 685.9,367.1 C687.4,372.3 688.9,382.0 690.4,386.2 C691.5,389.3 692.7,389.2 693.8,389.0 C695.0,388.8 696.1,385.3 697.3,385.0 C699.6,384.4 701.8,385.5 704.1,386.2 C705.6,386.7 707.2,388.3 708.7,388.5 C710.2,388.7 711.7,387.7 713.2,387.4 C715.7,387.0 718.3,386.7 720.8,386.4 C723.5,386.1 726.1,384.1 728.8,385.8 C731.5,387.5 734.1,395.0 736.8,396.7 C739.5,398.4 742.1,397.0 744.8,396.1 C746.7,395.5 748.6,393.1 750.5,392.1 C752.8,391.0 755.0,389.0 757.3,389.8 C759.6,390.7 761.8,395.6 764.1,397.2 C766.4,398.8 768.7,400.1 771.0,399.5 C772.9,399.0 774.8,396.6 776.7,393.8 C778.2,391.6 779.7,390.2 781.2,384.7 C782.4,380.4 783.5,369.3 784.7,364.2 C786.2,357.7 787.7,354.8 789.2,350.0 C790.5,345.8 791.8,341.0 793.1,337.1 C795.0,331.4 796.9,325.0 798.8,321.2 C801.1,316.6 803.3,317.4 805.6,312.0 C807.1,308.3 808.7,297.6 810.2,293.8 C811.7,290.1 813.2,289.7 814.7,289.3 C817.0,288.6 819.3,288.9 821.6,290.4 C823.9,291.9 826.1,296.4 828.4,298.4 C829.5,299.4 830.7,299.8 831.8,299.5 C833.7,299.0 835.6,296.1 837.5,296.1 C839.0,296.1 840.6,296.4 842.1,299.5 C843.6,302.6 845.2,309.1 846.7,315.0 C848.1,320.3 849.4,327.0 850.8,333.0 C851.9,338.0 853.1,342.6 854.2,347.9 C855.7,355.1 857.3,364.3 858.8,370.7 C860.3,377.2 861.9,380.9 863.4,386.6 C864.9,392.3 866.5,399.2 868.0,405.0 C868.9,408.5 869.9,411.6 870.8,414.4 C872.7,420.1 874.6,427.5 876.5,430.3 C878.0,432.6 879.6,429.8 881.1,429.8 C884.1,429.8 887.2,433.1 890.2,430.3 C892.9,427.8 895.5,417.5 898.2,413.8 C899.3,412.2 900.5,412.1 901.6,414.4 C903.5,418.3 905.4,425.8 907.3,432.6 C909.2,439.4 911.1,447.1 913.0,455.4 C915.3,465.3 917.5,480.3 919.8,487.3 C921.3,492.0 922.9,492.2 924.4,490.7 C926.3,488.8 928.2,480.0 930.1,477.0 C932.7,473.0 935.2,471.1 937.8,469.8 C939.1,469.1 940.4,468.9 941.7,471.1 C944.3,475.4 946.8,482.7 949.4,489.2 C951.6,494.7 953.7,501.5 955.9,507.3 C958.1,513.1 960.2,519.3 962.4,524.1 C964.1,527.9 965.8,530.4 967.5,533.2 C969.2,536.0 971.0,539.3 972.7,541.0 C974.4,542.7 976.2,544.1 977.9,543.6 C979.2,543.2 980.5,541.7 981.8,538.4 C983.5,534.0 985.3,526.8 987.0,520.3 C988.7,513.9 990.4,506.8 992.1,499.5 C993.8,492.1 995.6,483.7 997.3,476.2 C999.0,468.6 1000.8,457.0 1002.5,454.2 C1004.2,451.4 1006.0,456.6 1007.7,459.4 C1009.4,462.1 1011.1,466.8 1012.8,470.8 C1015.0,475.9 1017.1,482.7 1019.3,486.6 C1020.5,488.8 1021.8,489.0 1023.0,489.0 C1024.3,489.0 1025.5,488.9 1026.8,486.6 C1028.3,483.8 1029.9,477.9 1031.4,473.6 C1033.0,469.2 1034.5,463.4 1036.1,460.5 C1038.3,456.5 1040.4,455.6 1042.6,453.0 C1043.7,451.6 1044.9,449.8 1046.0,448.4 C1047.9,446.2 1049.7,444.5 1051.6,442.2 C1053.5,439.8 1055.4,437.4 1057.3,434.2 C1059.2,431.0 1061.1,424.3 1063.0,422.8 C1064.5,421.6 1066.0,425.2 1067.5,426.2 C1068.7,426.9 1069.8,425.1 1071.0,427.9 C1072.9,432.4 1074.8,441.8 1076.7,447.9 C1078.2,452.7 1079.7,456.4 1081.2,460.4 C1082.8,464.7 1084.4,469.3 1086.0,472.9 C1086.9,475.0 1087.9,477.8 1088.8,477.6 C1091.1,477.1 1093.4,474.2 1095.7,470.7 C1097.2,468.4 1098.7,463.9 1100.2,460.5 C1101.7,457.0 1103.3,454.0 1104.8,450.2 C1105.7,447.9 1106.7,444.9 1107.6,442.2" fill="none" stroke="#e2231f" stroke-width="1.3" stroke-linejoin="round" stroke-linecap="round"/>
  </g>
  <g stroke="#000" stroke-width="2">
    <line x1="187" y1="223" x2="187" y2="777"/>
    <line x1="186" y1="777" x2="1127" y2="777"/>
    <line x1="224" y1="769" x2="224" y2="777"/>
    <line x1="434" y1="769" x2="434" y2="777"/>
    <line x1="639" y1="769" x2="639" y2="777"/>
    <line x1="846" y1="769" x2="846" y2="777"/>
    <line x1="1051" y1="769" x2="1051" y2="777"/>
  </g>
  <g font-family="Liberation Sans, sans-serif" font-size="14.5" stroke="#fdfdfd" stroke-width="0.15">
    <text x="190.7" y="242.5" fill="#d23a2e" textLength="15.8" lengthAdjust="spacingAndGlyphs">M5</text>
    <text x="190.7" y="262.6" fill="#2e9744" textLength="22.5" lengthAdjust="spacingAndGlyphs">M20</text>
    <text x="190.7" y="283.1" fill="#ec904c" textLength="22.5" lengthAdjust="spacingAndGlyphs">M60</text>
    <text x="190.7" y="303.6" fill="#2b2b40" textLength="29" lengthAdjust="spacingAndGlyphs">M120</text>
    <text x="367.7" y="242.5" fill="#d23a2e" textLength="26.6" lengthAdjust="spacingAndGlyphs">744.4</text>
    <text x="367.7" y="262.6" fill="#2e9744" textLength="33" lengthAdjust="spacingAndGlyphs">735.75</text>
    <text x="367.2" y="283.1" fill="#ec904c" textLength="33.5" lengthAdjust="spacingAndGlyphs">698.97</text>
    <text x="367.2" y="303.6" fill="#2b2b40" textLength="33.5" lengthAdjust="spacingAndGlyphs">787.18</text>
    <text x="396" y="243" fill="#d23a2e" font-size="17">↑</text>
    <text x="402.5" y="263.5" fill="#2e9744" font-size="17">↑</text>
    <text x="402.5" y="283.5" fill="#ec904c" font-size="17">↑</text>
    <text x="402.5" y="304" fill="#2b2b40" font-size="17">↓</text>
  </g>
  <g font-family="Liberation Sans, sans-serif" font-size="35" fill="#000" stroke="#f5f5f5" stroke-width="1.1">
    <text x="165.5" y="303" text-anchor="end">1010</text>
    <text x="165.5" y="360" text-anchor="end">910</text>
    <text x="165.5" y="417" text-anchor="end">810</text>
    <text x="165.5" y="474" text-anchor="end">710</text>
    <text x="165.5" y="531" text-anchor="end">610</text>
    <text x="165.5" y="588" text-anchor="end">510</text>
    <text x="165.5" y="645" text-anchor="end">410</text>
    <text x="165.5" y="702" text-anchor="end">310</text>
    <text x="185.5" y="818">2019</text>
    <text x="392.5" y="818">2020</text>
    <text x="599.5" y="818">2021</text>
    <text x="806.5" y="818">2022</text>
    <text x="1013" y="818">2023</text>
  </g>
  <g font-family="Noto Sans CJK TC, sans-serif" font-weight="100" fill="#000">
    <text x="77" y="250" font-size="33">（</text>
    <text x="114" y="251" font-size="31">元</text>
    <text x="149.5" y="250" font-size="33">）</text>
  </g>
</svg>
<svg id="rocket" width="200" height="200" viewBox="0 0 200 200">
  <defs>
    <clipPath id="capc"><path d="M-70,-90 L70,-90 L70,-25.8 L36,-25.8 C22,-40 8,-50.7 0,-50.7 C-8,-50.7 -22,-40 -36,-25.8 L-70,-25.8 Z"/></clipPath>
    <clipPath id="bodyc"><path d="M0,-71.5 C12,-61 27,-47 33,-28 C37,-16 40,-6 40,4 C41,28 36,48 27,62 L-27,62 C-36,48 -41,28 -40,4 C-40,-6 -37,-16 -33,-28 C-27,-47 -12,-61 0,-71.5 Z"/></clipPath>
  </defs>
  <g transform="translate(100,83) rotate(40)">
    <path d="M-39,-2 C-47,6 -54,18 -54,30 C-54,40 -50,46 -46,50 L-28,50 L-30,0 Z" fill="#ef5545"/>
    <path d="M39,-2 C47,6 54,18 54,30 C54,40 50,46 46,50 L28,50 L30,0 Z" fill="#e5262b"/>
    <path d="M-19,68 L19,68 C19,80 16,92 0,114 C-16,92 -19,80 -19,68 Z" fill="#f6b41c"/>
    <path d="M-12,68 L12,68 C12,76 8,83 0,91 C-8,83 -12,76 -12,68 Z" fill="#fce52c"/>
    <path d="M-27,60 L27,60 L21,69 L-21,69 Z" fill="#ef5545"/>
    <path d="M-2,60 L27,60 L21,69 L-2,69 Z" fill="#e5262b"/>
    <g clip-path="url(#bodyc)">
      <rect x="-60" y="-90" width="120" height="160" fill="#ffffff"/>
      <rect x="-2" y="-90" width="70" height="160" fill="#ececec"/>
      <g clip-path="url(#capc)">
        <rect x="-60" y="-90" width="120" height="80" fill="#ef5545"/>
        <rect x="-1" y="-90" width="70" height="80" fill="#e5262b"/>
      </g>
    </g>
    <circle cx="0" cy="0" r="26" fill="#f04f40"/>
    <path d="M0,-26 A26,26 0 0 1 0,26 Z" fill="#e5262b"/>
    <circle cx="0" cy="0" r="19.5" fill="#4aa5e6"/>
    <path d="M0,-19.5 A19.5,19.5 0 0 1 0,19.5 Z" fill="#2f86cd"/>
  </g>
</svg>
<div class="foot" style="top:857.5px;">資料來源：CMoney法人投資決策系統</div>
<div class="foot" style="top:888.5px;">資料時間：<span style="font-size:30px;letter-spacing:2.2px;position:relative;top:1.5px;">2019/01/02～2023/06/13</span></div>
</body>
</html>
